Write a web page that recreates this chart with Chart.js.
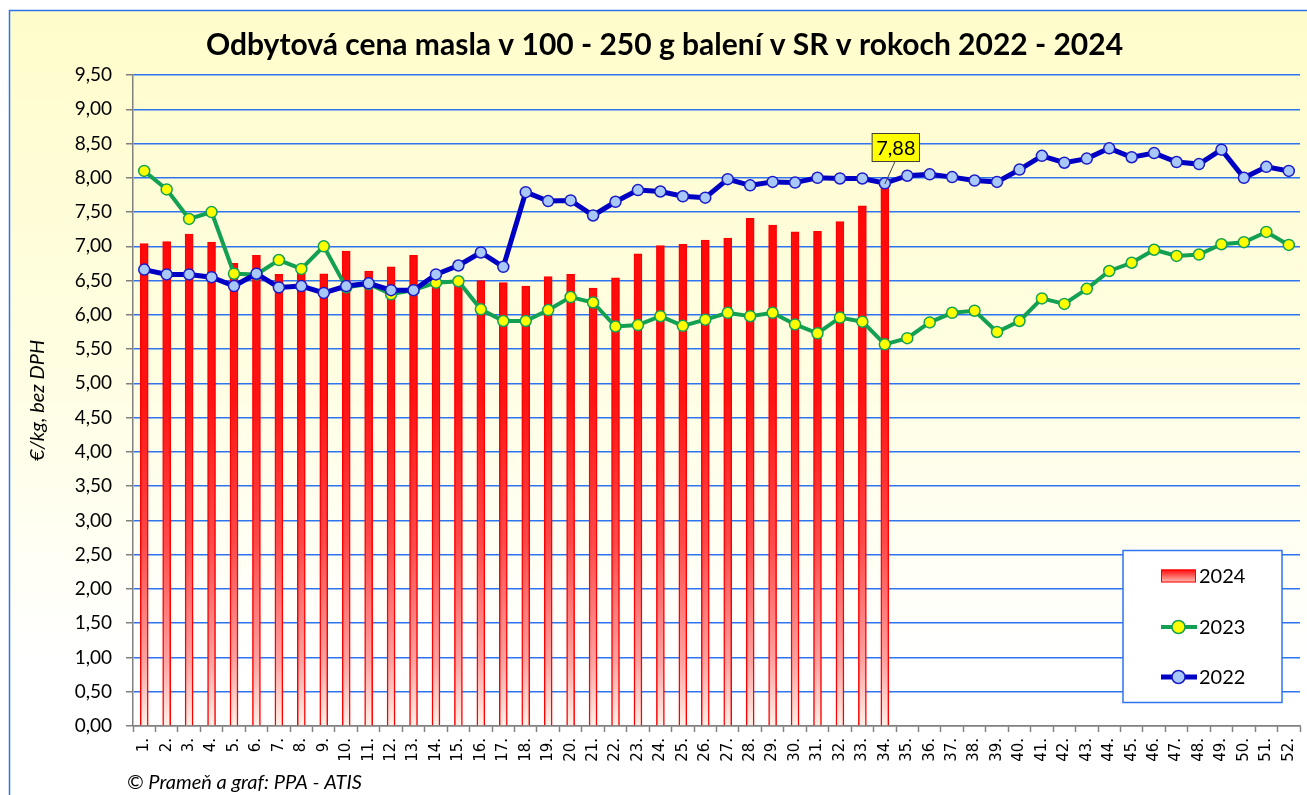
<!DOCTYPE html>
<html>
<head>
<meta charset="utf-8">
<title>Odbytová cena masla</title>
<script src="https://cdn.jsdelivr.net/npm/chart.js@4.4.1/dist/chart.umd.min.js"></script>
<style>
  html, body { margin: 0; padding: 0; background: #fff; }
  #wrap { width: 1307px; height: 795px; }
</style>
</head>
<body>
<div id="wrap"><canvas id="graf" width="1307" height="795"></canvas></div>
<script>
// kalendárne týždne
const tyzdne = ['1.', '2.', '3.', '4.', '5.', '6.', '7.', '8.', '9.', '10.',
  '11.', '12.', '13.', '14.', '15.', '16.', '17.', '18.', '19.', '20.',
  '21.', '22.', '23.', '24.', '25.', '26.', '27.', '28.', '29.', '30.',
  '31.', '32.', '33.', '34.', '35.', '36.', '37.', '38.', '39.', '40.',
  '41.', '42.', '43.', '44.', '45.', '46.', '47.', '48.', '49.', '50.',
  '51.', '52.'];

// €/kg bez DPH
const cena2024 = [7.04, 7.07, 7.18, 7.06, 6.75, 6.87, 6.59, 6.61, 6.60, 6.93,
  6.64, 6.70, 6.87, 6.48, 6.50, 6.50, 6.47, 6.42, 6.56, 6.59,
  6.39, 6.54, 6.89, 7.01, 7.03, 7.09, 7.12, 7.41, 7.31, 7.21,
  7.22, 7.36, 7.59, 7.88];

const cena2023 = [8.10, 7.83, 7.40, 7.50, 6.60, 6.59, 6.80, 6.67, 7.00, 6.40,
  6.45, 6.30, 6.36, 6.47, 6.49, 6.08, 5.91, 5.91, 6.07, 6.26,
  6.18, 5.83, 5.85, 5.98, 5.84, 5.93, 6.03, 5.98, 6.03, 5.86,
  5.73, 5.96, 5.90, 5.57, 5.66, 5.89, 6.03, 6.06, 5.75, 5.91,
  6.24, 6.16, 6.38, 6.64, 6.76, 6.95, 6.86, 6.88, 7.03, 7.06,
  7.21, 7.02];

const cena2022 = [6.66, 6.59, 6.59, 6.55, 6.42, 6.60, 6.40, 6.42, 6.32, 6.42,
  6.46, 6.36, 6.36, 6.59, 6.72, 6.91, 6.70, 7.79, 7.66, 7.67,
  7.45, 7.65, 7.82, 7.80, 7.73, 7.71, 7.98, 7.89, 7.94, 7.93,
  8.00, 7.99, 7.99, 7.92, 8.03, 8.05, 8.01, 7.96, 7.94, 8.12,
  8.32, 8.22, 8.28, 8.43, 8.30, 8.36, 8.23, 8.20, 8.41, 8.00,
  8.16, 8.10];

const osY = { min: 0, max: 9.5, krok: 0.5 };

const MODRA_MRIEZKA = '#2E74EE';
const SIVA = '#808080';
const FONT = 'Lato, "Open Sans", sans-serif';

function ciarka(v, d) {
  return Number(v).toFixed(d).replace('.', ',');
}

// prechod farby stlpcov 2024 (cervena hore, biela dole)
function farbaStlpca(context) {
  const chart = context.chart;
  const area = chart.chartArea;
  if (!area) return '#FF0000';
  const g = chart.ctx.createLinearGradient(0, area.top, 0, area.bottom);
  g.addColorStop(0, '#FF0000');
  g.addColorStop(0.5, '#FF1414');
  g.addColorStop(0.72, '#FF4A4A');
  g.addColorStop(0.9, '#FFA2A0');
  g.addColorStop(1, '#FFF1E8');
  return g;
}

// pozadie s ramom
const pozadie = {
  id: 'pozadie',
  beforeDraw(chart) {
    const c = chart.ctx;
    c.save();
    c.fillStyle = '#FFFFFF';
    c.fillRect(0, 0, chart.width, chart.height);
    const g = c.createLinearGradient(0, 10, 0, 660);
    g.addColorStop(0, '#FFFCCB');
    g.addColorStop(0.55, '#FFFEE2');
    g.addColorStop(1, '#FFFFFF');
    c.fillStyle = g;
    c.fillRect(9.5, 10.5, chart.width, chart.height);
    c.strokeStyle = '#2E74EE';
    c.lineWidth = 1.5;
    c.beginPath();
    c.moveTo(9.5, chart.height);
    c.lineTo(9.5, 10.5);
    c.lineTo(chart.width, 10.5);
    c.stroke();
    c.restore();
  }
};

// popis poslednej hodnoty 2024
const popisHodnoty = {
  id: 'popisHodnoty',
  afterDatasetsDraw(chart) {
    const c = chart.ctx;
    const i = cena2024.length - 1;
    const x = chart.scales.x.getPixelForValue(i);
    const y = chart.scales.y.getPixelForValue(cena2024[i]);
    const text = ciarka(cena2024[i], 2);
    c.save();
    c.font = '20px ' + FONT;
    const w = c.measureText(text).width + 9;
    const h = 29;
    const bx = x + 11 - w / 2;
    const by = y - 53;
    c.strokeStyle = '#404040';
    c.lineWidth = 1;
    c.beginPath();
    c.moveTo(x + 10, by + h);
    c.lineTo(x, y - 2);
    c.stroke();
    c.fillStyle = '#FFFF00';
    c.fillRect(bx, by, w, h);
    c.strokeRect(bx + 0.5, by + 0.5, w - 1, h - 1);
    c.fillStyle = '#000';
    c.textAlign = 'center';
    c.textBaseline = 'middle';
    c.fillText(text, bx + w / 2, by + h / 2 + 1);
    c.restore();
  }
};

// legenda v ramceku
const legenda = {
  id: 'legenda',
  afterDraw(chart) {
    const c = chart.ctx;
    const ds = chart.data.datasets;
    c.save();
    c.fillStyle = '#FFFFFF';
    c.fillRect(1123, 550.5, 159, 152);
    c.strokeStyle = '#2E74EE';
    c.lineWidth = 1.5;
    c.strokeRect(1123, 550.5, 159, 152);
    c.font = '20px ' + FONT;
    c.textBaseline = 'middle';
    c.fillStyle = '#000';
    const riadky = [576, 627, 677];
    ds.forEach(function (d, k) {
      const yy = riadky[k];
      if (d.type === 'bar' || !d.type) {
        const g = c.createLinearGradient(0, yy - 7, 0, yy + 7);
        g.addColorStop(0, '#FF0000');
        g.addColorStop(1, '#FFC8C0');
        c.fillStyle = g;
        c.fillRect(1161, yy - 6.5, 35, 13);
        c.strokeStyle = '#FF0000';
        c.lineWidth = 1;
        c.strokeRect(1161.5, yy - 6, 34, 12);
      } else {
        c.strokeStyle = d.borderColor;
        c.lineWidth = d.borderWidth;
        c.beginPath();
        c.moveTo(1161, yy);
        c.lineTo(1197, yy);
        c.stroke();
        c.fillStyle = d.pointBackgroundColor;
        c.strokeStyle = d.pointBorderColor;
        c.lineWidth = 1.5;
        c.beginPath();
        c.arc(1178.5, yy, 6.5, 0, Math.PI * 2);
        c.fill();
        c.stroke();
      }
      c.fillStyle = '#000';
      c.fillText(d.label, 1199, yy + 1);
    });
    c.restore();
  }
};

// zdroj
const zdroj = {
  id: 'zdroj',
  afterDraw(chart) {
    const c = chart.ctx;
    c.save();
    c.font = 'italic 20px ' + FONT;
    c.fillStyle = '#000';
    c.textBaseline = 'middle';
    c.fillText('© Prameň a graf: PPA - ATIS', 127, 783);
    c.restore();
  }
};

new Chart(document.getElementById('graf'), {
  type: 'bar',
  data: {
    labels: tyzdne,
    datasets: [
      {
        type: 'bar',
        label: '2024',
        data: cena2024,
        backgroundColor: farbaStlpca,
        borderColor: '#FF0000',
        borderWidth: 1.5,
        barThickness: 8,
        order: 2
      },
      {
        type: 'line',
        label: '2023',
        data: cena2023,
        borderColor: '#12A152',
        borderWidth: 4,
        pointRadius: 5.5,
        pointBorderWidth: 1.5,
        pointBackgroundColor: '#FFFF00',
        pointBorderColor: '#12A152',
        tension: 0,
        order: 1
      },
      {
        type: 'line',
        label: '2022',
        data: cena2022,
        borderColor: '#0000C4',
        borderWidth: 5,
        pointRadius: 5.5,
        pointBorderWidth: 1.5,
        pointBackgroundColor: '#A8C8FA',
        pointBorderColor: '#1A1AC8',
        tension: 0,
        order: 0
      }
    ]
  },
  options: {
    responsive: false,
    animation: false,
    layout: { padding: { left: 26, right: 4, top: 0, bottom: 0 } },
    plugins: {
      legend: { display: false },
      tooltip: { enabled: false },
      title: {
        display: true,
        text: 'Odbytová cena masla v 100 - 250 g balení v SR v rokoch 2022 - 2024',
        color: '#000',
        font: { family: FONT, size: 30, weight: 'bold', lineHeight: 1.2 },
        padding: { top: 27, bottom: 12 }
      }
    },
    scales: {
      x: {
        grid: {
          display: true,
          drawOnChartArea: false,
          drawTicks: true,
          tickLength: 6,
          tickColor: SIVA,
          tickWidth: 1.5,
          offset: true
        },
        border: { color: SIVA, width: 1.5 },
        ticks: {
          color: '#000',
          font: { family: '"DejaVu Sans", sans-serif', size: 15 },
          minRotation: 90,
          maxRotation: 90,
          autoSkip: false,
          padding: 6
        },
        afterFit(s) {
          s.height = 69;
          s.paddingLeft = 0;
          s.paddingRight = 0;
        }
      },
      y: {
        min: osY.min,
        max: osY.max,
        ticks: {
          stepSize: osY.krok,
          color: '#000',
          font: { family: FONT, size: 19 },
          padding: 14,
          callback: function (v) { return ciarka(v, 2); }
        },
        grid: {
          color: function (ctx) { return ctx.tick && ctx.tick.value === 0 ? SIVA : MODRA_MRIEZKA; },
          lineWidth: 1.5,
          tickColor: SIVA,
          tickLength: 7,
          tickWidth: 1.5
        },
        border: { color: SIVA, width: 1.5 },
        title: {
          display: true,
          text: '€/kg, bez DPH',
          color: '#000',
          font: { family: FONT, size: 20, style: 'italic' },
          padding: { top: 0, bottom: 0 }
        },
        afterFit(s) { s.width = 107; }
      }
    }
  },
  plugins: [pozadie, popisHodnoty, legenda, zdroj]
});
</script>
</body>
</html>
